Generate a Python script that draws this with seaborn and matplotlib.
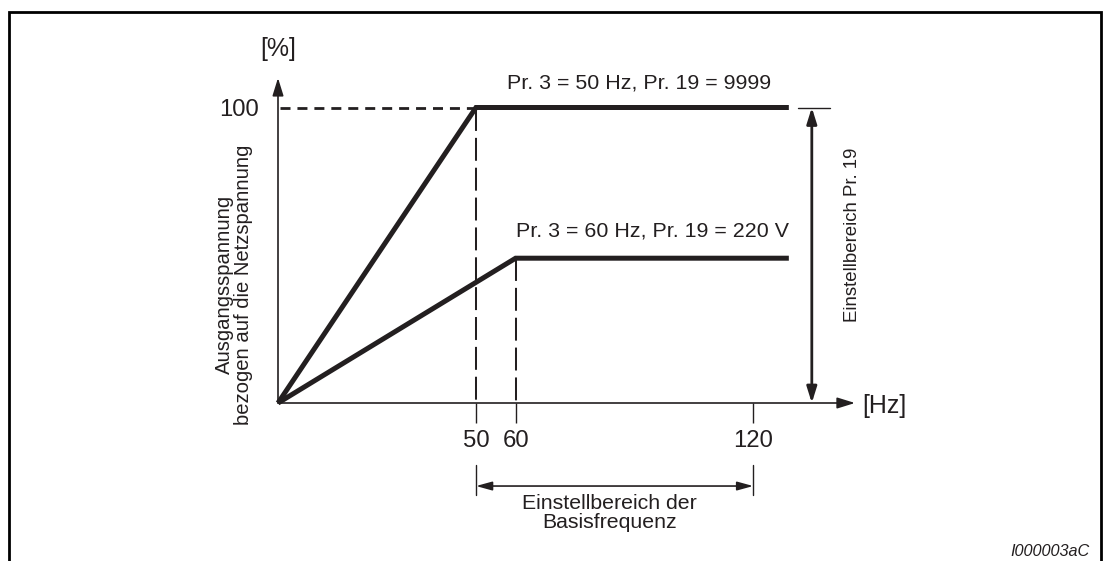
import matplotlib
matplotlib.use("Agg")
import matplotlib.pyplot as plt
from matplotlib.lines import Line2D
import seaborn as sns
import pandas as pd

sns.set_theme(style="white")
plt.rcParams['font.family'] = ['Liberation Sans', 'DejaVu Sans']
plt.rcParams['lines.scale_dashes'] = False

# curve data (frequency in Hz, output voltage in % of mains)
freq_50 = [0, 50, 129]
volt_50 = [0, 100, 100]
freq_60 = [0, 60, 129]
volt_60 = [0, 49, 49]

x_ticks = [50, 60, 120]
x_ticklabels = ["50", "60", "120"]
y_ticks = [100]
y_ticklabels = ["100"]

label_50 = "Pr. 3 = 50 Hz, Pr. 19 = 9999"
label_60 = "Pr. 3 = 60 Hz, Pr. 19 = 220 V"
base_range = (50, 120)
pr19_range = (0, 100)
pr19_x = 134.8

ink = "#231f20"

df = pd.concat([
    pd.DataFrame({"f": freq_50, "u": volt_50, "case": label_50}),
    pd.DataFrame({"f": freq_60, "u": volt_60, "case": label_60}),
])

W, H = 1105, 561
fig = plt.figure(figsize=(W / 100, H / 100), dpi=100)
# origin at pixel (278, 403), 3.96 px per Hz, 2.955 px per %
ax = fig.add_axes([278 / W, (H - 403) / H, 146 * 3.96 / W, 110 * 2.955 / H])
ax.set_xlim(0, 146)
ax.set_ylim(0, 110)
for s in ax.spines.values():
    s.set_visible(False)

sns.lineplot(data=df, x="f", y="u", units="case", estimator=None, ax=ax,
             color=ink, lw=3.6, legend=False, sort=False,
             solid_joinstyle="miter", solid_capstyle="butt", clip_on=False)

# axes arrows
arr = dict(arrowstyle="-|>,head_length=0.9,head_width=0.28", color=ink, lw=1.2,
           shrinkA=0, shrinkB=0)
ax.annotate("", xy=(0, 110), xytext=(0, 0), arrowprops=arr, annotation_clip=False)
ax.annotate("", xy=(145.7, 0), xytext=(0, 0), arrowprops=arr, annotation_clip=False)

# dashed guides
ax.plot([0.5, 50], [100, 100], color=ink, lw=2.0, ls=(0, (7.2, 5.0)), clip_on=False)
ax.plot([50, 50], [100, 0], color=ink, lw=1.45, ls=(0, (16.5, 5.0)), clip_on=False)
ax.plot([60, 60], [volt_60[1], 0], color=ink, lw=1.45, ls=(0, (16.5, 5.0)), clip_on=False)

# ticks
ax.set_xticks(x_ticks)
ax.set_xticklabels(x_ticklabels)
ax.set_yticks(y_ticks)
ax.set_yticklabels(y_ticklabels)
ax.tick_params(axis="x", bottom=True, length=14.4, width=1.0, color=ink,
               direction="out", pad=5.0, labelsize=17.2, labelcolor=ink)
ax.tick_params(axis="y", left=True, length=0, pad=14, labelsize=17.2, labelcolor=ink)
ax.set_xlabel("")
ax.set_ylabel("")

# axis units
ax.text(0, 119.8, "[%]", ha="center", va="center", fontsize=18, color=ink)
ax.text(147.5, -1.0, "[Hz]", ha="left", va="center", fontsize=18, color=ink)

# curve labels
ax.text(57.8, 108.3, label_50, ha="left", va="center", fontsize=15.4, color=ink)
ax.text(60.2, 58.2, label_60, ha="left", va="center", fontsize=15.4, color=ink)

# y label
ax.text(-11.1, 40.0, "Ausgangsspannung\nbezogen auf die Netzspannung", rotation=90,
        ha="center", va="center", fontsize=14.6, color=ink, multialignment="center",
        linespacing=1.0)

# Pr. 19 setting range
ax.annotate("", xy=(pr19_x, pr19_range[1]), xytext=(pr19_x, pr19_range[0]),
            arrowprops=dict(arrowstyle="<|-|>,head_length=0.8,head_width=0.25",
                            color=ink, lw=2.0, shrinkA=0, shrinkB=0),
            annotation_clip=False)
ax.plot([131.3, 139.4], [100, 100], color=ink, lw=1.0, clip_on=False)
ax.text(145, 56.9, "Einstellbereich Pr. 19", rotation=90, ha="center", va="center",
        fontsize=13.4, color=ink)

# base frequency setting range
ax.annotate("", xy=(base_range[1], -28.1), xytext=(base_range[0], -28.1),
            arrowprops=dict(arrowstyle="<|-|>,head_length=0.8,head_width=0.22",
                            color=ink, lw=1.2, shrinkA=0, shrinkB=0),
            annotation_clip=False)
for xv in base_range:
    ax.plot([xv, xv], [-21, -31.1], color=ink, lw=1.0, clip_on=False)
ax.text(83.8, -37.1, "Einstellbereich der\nBasisfrequenz", ha="center", va="center",
        fontsize=15.3, color=ink, linespacing=1.0)

# frame
fx = lambda p: p / W
fy = lambda p: 1 - p / H
fig.add_artist(Line2D([fx(8.5), fx(8.5), fx(1100.5), fx(1100.5)],
                      [fy(H), fy(12), fy(12), fy(H)], color="black", lw=2.0,
                      solid_joinstyle="miter"))
fig.text(fx(1090), fy(551), "I000003aC", ha="right", va="center", fontsize=11.7,
         style="italic", color=ink)

fig.savefig("out.png", dpi=100, facecolor="white")
